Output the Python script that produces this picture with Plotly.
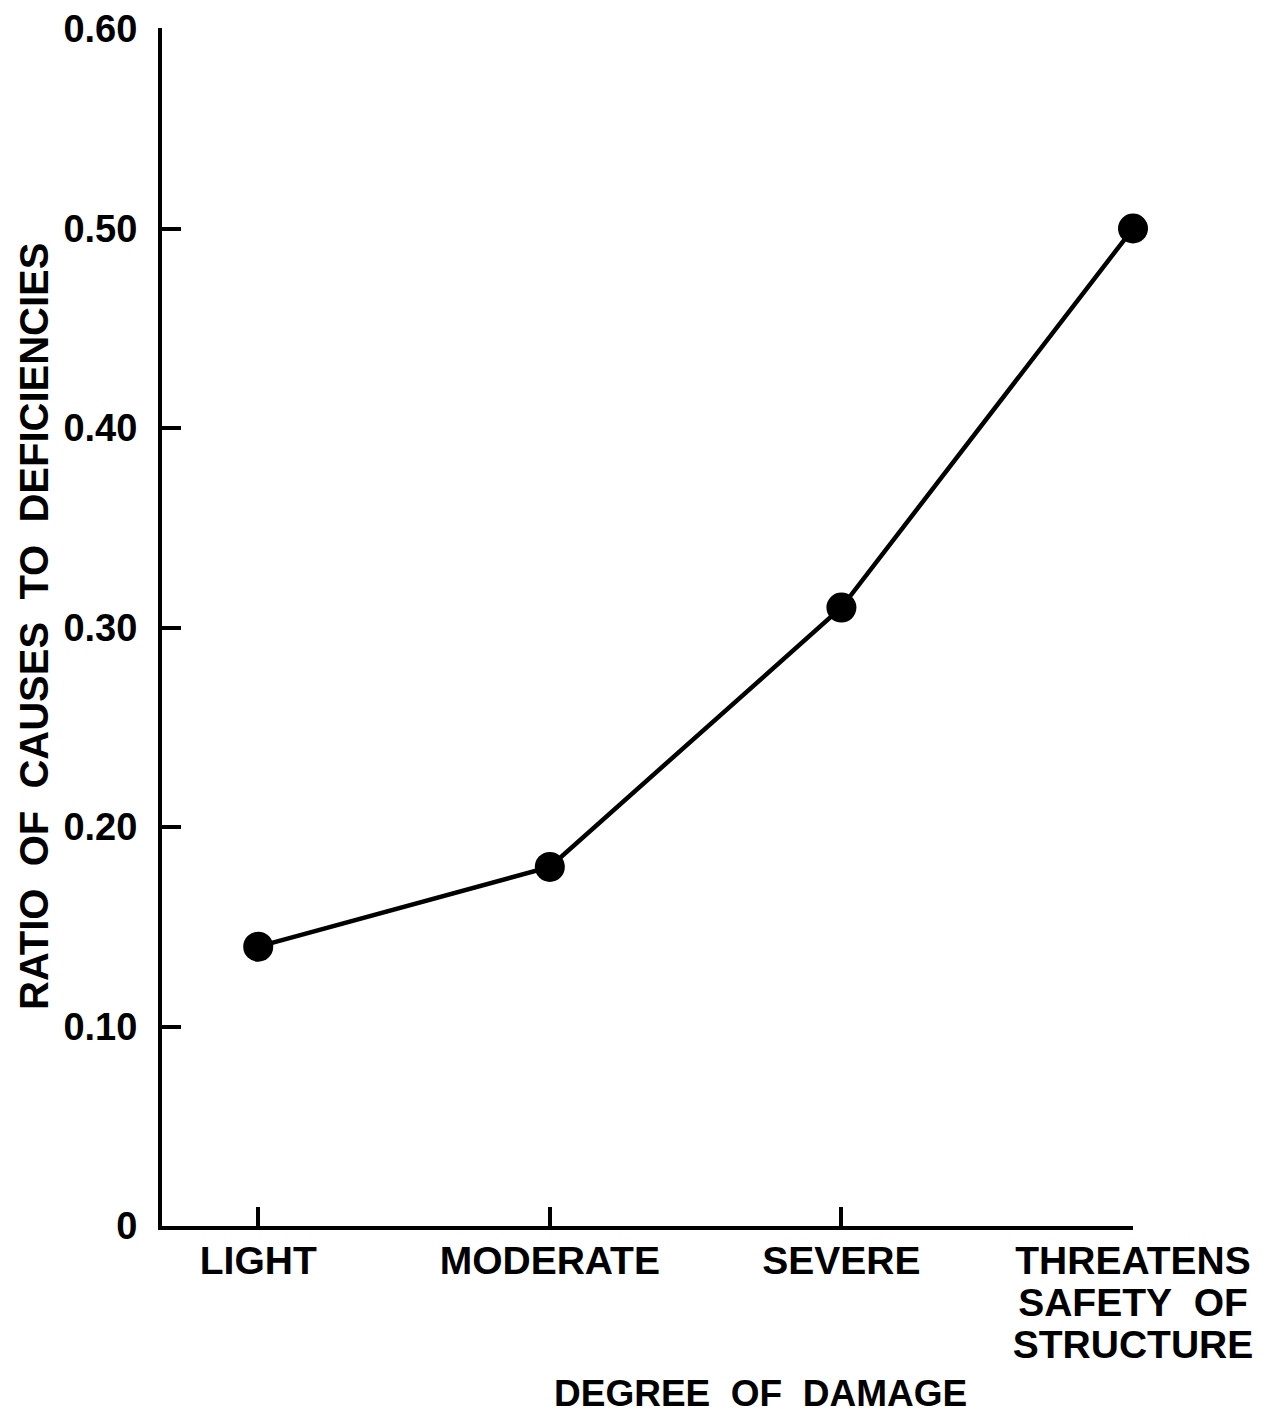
import plotly.graph_objects as go

categories = ["LIGHT", "MODERATE", "SEVERE", "THREATENS<br>SAFETY\u00a0 OF<br>STRUCTURE"]
ratio = [0.14, 0.18, 0.31, 0.50]
y_tickvals = [0, 0.1, 0.2, 0.3, 0.4, 0.5, 0.6]
y_ticktext = ["0", "0.10", "0.20", "0.30", "0.40", "0.50", "0.60"]
x_title = "DEGREE\u00a0 OF\u00a0 DAMAGE"
y_title = "RATIO\u00a0 OF\u00a0 CAUSES\u00a0 TO\u00a0 DEFICIENCIES"

FONT = "Liberation Sans, Arial, Helvetica, sans-serif"
W, H = 1275, 1418
L, T = 162, 28
R = W - 1133
B = H - 1226
PW, PH = W - L - R, H - T - B

xs = list(range(len(categories)))
# larger glyphs inside a smaller base font -> tighter line spacing
x_ticktext = ["<br>".join(f"<span style='font-size:39px'>{ln}</span>" for ln in c.split("<br>"))
              for c in categories]

fig = go.Figure()
fig.add_trace(go.Scatter(
    x=xs, y=ratio, mode="lines+markers",
    line=dict(color="black", width=4.5),
    marker=dict(color="black", size=30),
    showlegend=False, hoverinfo="skip", cliponaxis=False,
))

fig.update_layout(
    width=W, height=H,
    margin=dict(l=L, r=R, t=T, b=B, pad=0, autoexpand=False),
    paper_bgcolor="white", plot_bgcolor="white",
    font=dict(family=FONT, color="black", size=37, weight="bold"),
    xaxis=dict(
        range=[-0.33, 3.0], tickmode="array", tickvals=xs, ticktext=x_ticktext,
        showline=True, linecolor="black", linewidth=4,
        ticks="inside", ticklen=19, tickwidth=4, tickcolor="black",
        showgrid=False, zeroline=False, fixedrange=True, automargin=False,
        tickfont=dict(family=FONT, size=32, weight="bold"),
        ticklabelstandoff=6,
    ),
    yaxis=dict(
        range=[0, 0.6005], tickmode="array", tickvals=y_tickvals, ticktext=y_ticktext,
        showline=True, linecolor="black", linewidth=4,
        ticks="inside", ticklen=19, tickwidth=4, tickcolor="black",
        showgrid=False, zeroline=False, fixedrange=True, automargin=False,
        tickfont=dict(family=FONT, size=38, weight="bold"),
        ticklabelstandoff=13,
    ),
    annotations=[
        dict(text=y_title, xref="paper", yref="paper",
             x=(34 - L) / PW, y=(H - B - 627) / PH,
             xanchor="center", yanchor="middle",
             textangle=-90, showarrow=False,
             font=dict(family=FONT, size=40, weight="bold")),
        dict(text=x_title, xref="paper", yref="paper",
             x=(760 - L) / PW, y=(H - B - 1393) / PH,
             xanchor="center", yanchor="middle", showarrow=False,
             font=dict(family=FONT, size=37, weight="bold")),
    ],
)

fig.write_html(
    "out.html",
    config={"displayModeBar": False, "staticPlot": True},
    post_script="document.body.style.margin='0';document.body.style.overflow='hidden';",
)
